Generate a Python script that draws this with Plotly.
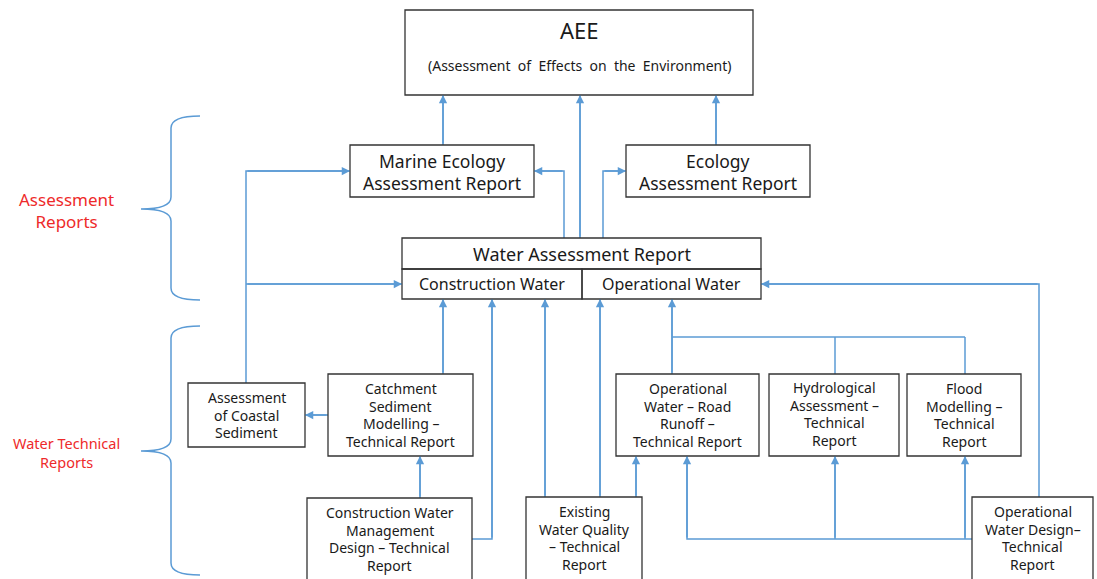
import plotly.graph_objects as go

# ---- diagram content ----
node_labels = [
    "Marine Ecology<br>Assessment Report",
    "Ecology<br>Assessment Report",
    "Water Assessment Report",
    "Construction Water",
    "Operational Water",
    "Assessment<br>of Coastal<br>Sediment",
    "Catchment<br>Sediment<br>Modelling –<br>Technical Report",
    "Construction Water<br>Management<br>Design – Technical<br>Report",
    "Existing<br>Water Quality<br>– Technical<br>Report",
    "Operational<br>Water – Road<br>Runoff –<br>Technical Report",
    "Hydrological<br>Assessment –<br>Technical<br>Report",
    "Flood<br>Modelling –<br>Technical<br>Report",
    "Operational<br>Water Design–<br>Technical<br>Report",
]
# box extents in diagram coordinates (x0, x1, y0, y1)
node_x0 = [350, 626, 402, 402, 582, 188, 328, 307, 526, 616, 769, 907, 972]
node_x1 = [534, 810, 761, 582, 761, 305, 473, 472, 642, 759, 899, 1021, 1093]
node_y0 = [145, 145, 238, 269, 269, 383, 374, 498, 497, 374, 374, 374, 497]
node_y1 = [197, 197, 269, 299, 299, 447, 456, 600, 600, 456, 456, 456, 600]
node_ty = [172, 172, 254, 284, 284, 415, 415, 539, 538, 415, 414, 415, 538]
node_fs = [17.5, 17.5, 18, 16, 16, 14, 14, 14, 14, 14, 14, 14, 14]
node_ls = [21.5, 21.5, 0, 0, 0, 17.3, 17.5, 17.8, 17.8, 17.5, 17.5, 17.5, 17.8]

top_title = "AEE"
top_subtitle = "(Assessment  of  Effects  on  the  Environment)"

group_labels = ["Assessment<br>Reports", "Water Technical<br>Reports"]
group_top = [116, 326]
group_tip = [209, 451]
group_bottom = [300, 575]

# connectors: list of polylines; last segment carries an arrowhead when flag is True
connectors = [
    ([(443, 145), (443, 95)], True),
    ([(580, 238), (580, 95)], True),
    ([(716, 145), (716, 95)], True),
    ([(564, 238), (564, 171), (534, 171)], True),
    ([(603, 238), (603, 171), (626, 171)], True),
    ([(246, 383), (246, 171), (350, 171)], True),
    ([(246, 284), (402, 284)], True),
    ([(328, 415), (305, 415)], True),
    ([(443, 374), (443, 299)], True),
    ([(420, 498), (420, 456)], True),
    ([(472, 539), (492, 539), (492, 299)], True),
    ([(545, 497), (545, 299)], True),
    ([(600, 497), (600, 299)], True),
    ([(636, 497), (636, 456)], True),
    ([(672, 374), (672, 299)], True),
    ([(672, 337), (965, 337)], False),
    ([(835, 337), (835, 374)], False),
    ([(965, 337), (965, 374)], False),
    ([(972, 539), (687, 539), (687, 456)], True),
    ([(835, 539), (835, 456)], True),
    ([(965, 539), (965, 456)], True),
    ([(1039, 497), (1039, 284), (761, 284)], True),
]

W, H = 1097, 579
BLUE = "#5B9BD5"
BOX = "#333333"
TXT = "#1a1a1a"
RED = "#EE2A2A"
FONT = "Noto Sans"

fig = go.Figure()
shapes = []
annotations = []


def add_lines(label, cx, cy, size, spacing, color):
    lines = label.split("<br>")
    n = len(lines)
    for i, ln in enumerate(lines):
        annotations.append(dict(
            x=cx, y=cy + (i - (n - 1) / 2) * spacing, xref="x", yref="y",
            text=ln.replace("  ", "&nbsp; "), showarrow=False, align="center",
            xanchor="center", yanchor="middle",
            font=dict(family=FONT, size=size, color=color)))


# connectors
for pts, arrow in connectors:
    xs = [p[0] for p in pts]
    ys = [p[1] for p in pts]
    fig.add_trace(go.Scatter(x=xs, y=ys, mode="lines",
                             line=dict(color=BLUE, width=1.5),
                             hoverinfo="skip", showlegend=False))
    if arrow:
        (x0, y0), (x1, y1) = pts[-2], pts[-1]
        annotations.append(dict(
            x=x1, y=y1, ax=x0, ay=y0, xref="x", yref="y", axref="x", ayref="y",
            text="", showarrow=True, arrowhead=2, arrowsize=1.1, arrowwidth=1.5,
            arrowcolor=BLUE, standoff=0, startstandoff=0))

# AEE box
shapes.append(dict(type="rect", xref="x", yref="y", x0=405, x1=753, y0=10, y1=95,
                   line=dict(color=BOX, width=1.3), fillcolor="rgba(0,0,0,0)"))
add_lines(top_title, 579, 30, 22, 0, TXT)
add_lines(top_subtitle, 579, 65, 14, 0, TXT)

# other boxes
for lab, x0, x1, y0, y1, ty, fs, ls in zip(node_labels, node_x0, node_x1, node_y0,
                                           node_y1, node_ty, node_fs, node_ls):
    shapes.append(dict(type="rect", xref="x", yref="y", x0=x0, x1=x1, y0=y0, y1=y1,
                       line=dict(color=BOX, width=1.3), fillcolor="rgba(0,0,0,0)"))
    add_lines(lab, (x0 + x1) / 2, ty, fs, ls, TXT)

# braces and group labels
for lab, t, m, b, fs in zip(group_labels, group_top, group_tip, group_bottom, [17, 14.5]):
    sx, ex, tx, r = 171, 200, 141, 12
    path = (f"M {ex},{t} Q {sx},{t} {sx},{t + r} L {sx},{m - r} "
            f"Q {sx},{m} {tx},{m} Q {sx},{m} {sx},{m + r} L {sx},{b - r} Q {sx},{b} {ex},{b}")
    shapes.append(dict(type="path", xref="x", yref="y", path=path,
                       line=dict(color=BLUE, width=1.5)))
    annotations.append(dict(x=66, y=m + 1, xref="x", yref="y", text=lab, showarrow=False,
                            align="center", xanchor="center", yanchor="middle",
                            font=dict(family=FONT, size=fs, color=RED)))

fig.update_layout(
    width=W, height=H, margin=dict(l=0, r=0, t=0, b=0),
    paper_bgcolor="white", plot_bgcolor="white",
    xaxis=dict(range=[0, W], visible=False, fixedrange=True),
    yaxis=dict(range=[H, 0], visible=False, fixedrange=True),
    shapes=shapes, annotations=annotations, showlegend=False,
)
fig.write_html("out.html", config={"displayModeBar": False},
               post_script="document.body.style.margin='0px';"
                           "document.body.style.overflow='hidden';")
